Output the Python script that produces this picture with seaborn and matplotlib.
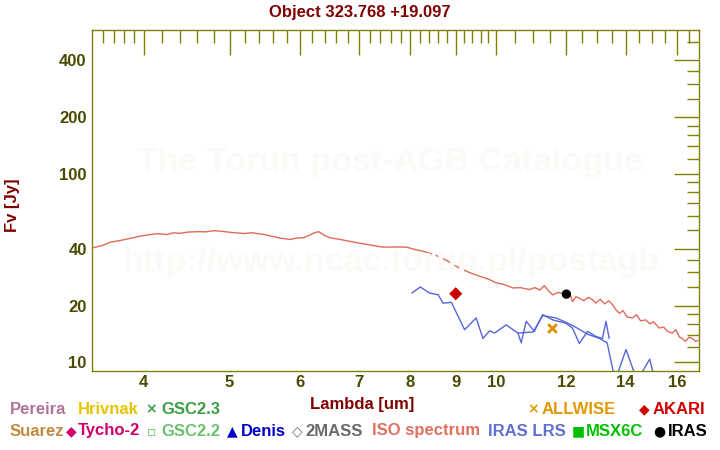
import matplotlib
matplotlib.use("Agg")
import matplotlib.pyplot as plt
import seaborn as sns

# =========================
# Data
# =========================

iso_wave = [3.51, 3.60, 3.67, 3.76, 3.86, 3.95, 4.05, 4.14, 4.25, 4.32, 4.40, 4.48,
            4.60, 4.70, 4.80, 4.90, 5.05, 5.20, 5.30, 5.46, 5.60, 5.70, 5.85, 5.95,
            6.06, 6.15, 6.25, 6.30, 6.40, 6.49, 6.70, 6.96, 7.20, 7.45, 7.70, 7.92,
            8.10, 8.27, 8.45, 8.60, 8.80, 9.00, 9.17, 9.35, 9.58, 9.80, 10.0, 10.2,
            10.44, 10.65, 10.90, 11.05, 11.20, 11.33, 11.45, 11.58, 11.75, 11.99,
            12.10, 12.19, 12.30, 12.41, 12.55, 12.70, 12.84, 12.95, 13.10, 13.25,
            13.40, 13.53, 13.65, 13.77, 13.90, 14.05, 14.25, 14.40, 14.55, 14.75,
            14.90, 15.05, 15.27, 15.45, 15.60, 15.80, 15.95, 16.10, 16.22, 16.35,
            16.50, 16.64, 16.80, 16.90]
iso_flux = [40.5, 41.8, 43.4, 44.2, 45.4, 46.5, 47.4, 48.1, 47.6, 48.6, 48.3, 49.0,
            49.3, 49.2, 49.9, 49.5, 48.7, 48.2, 48.6, 47.7, 46.4, 45.6, 44.8, 45.6,
            45.8, 47.2, 48.8, 49.3, 47.1, 45.8, 44.6, 43.1, 41.9, 40.8, 40.9, 40.8,
            39.6, 38.8, 37.6, 36.5, 34.6, 32.4, 31.0, 29.8, 28.6, 27.6, 26.4, 25.9,
            24.8, 24.9, 24.3, 24.9, 24.2, 25.5, 24.0, 22.8, 23.5, 22.8,
            23.4, 21.0, 22.3, 21.9, 21.2, 22.1, 21.5, 20.6, 21.6, 20.4,
            21.2, 20.2, 19.0, 18.2, 18.8, 17.4, 17.2, 17.9, 16.6, 16.8,
            16.0, 16.4, 15.2, 15.4, 14.6, 14.3, 14.9, 13.6, 13.4, 12.9,
            13.6, 13.4, 12.9, 13.1]

# IRAS LRS: blue part and red part of the spectrum
lrs1_wave = [8.03, 8.21, 8.41, 8.60, 8.71, 8.90, 9.21, 9.49, 9.66, 9.83, 9.96, 10.26,
             10.58, 10.67, 10.81, 11.04, 11.28, 11.58, 11.99, 12.19, 12.41, 12.68,
             12.96, 13.18, 13.30, 13.41]
lrs1_flux = [23.3, 25.1, 23.3, 22.8, 20.6, 20.8, 14.9, 17.2, 13.4, 14.7, 14.3, 15.8,
             14.3, 12.7, 16.5, 14.6, 17.9, 16.8, 16.1, 15.2, 12.6, 14.6,
             13.7, 13.4, 16.5, 13.4]
lrs2_wave = [10.58, 11.01, 11.28, 11.68, 11.99, 12.28, 12.68, 13.07, 13.34, 13.62,
             14.01, 14.42, 14.90, 15.11]
lrs2_flux = [14.3, 14.5, 17.7, 17.2, 16.3, 15.4, 14.1, 13.4, 12.7, 8.0,
             11.7, 8.0, 10.4, 8.0]

akari_wave = [9.0]
akari_flux = [23.1]
iras_wave = [12.0]
iras_flux = [23.0]
allwise_wave = [11.56]
allwise_flux = [15.2]

x_major = [4, 5, 6, 7, 8, 9, 10, 12, 14, 16]
x_minor = [3.6, 3.7, 3.8, 3.9, 4.2, 4.4, 4.6, 4.8, 5.2, 5.4, 5.6, 5.8,
           6.2, 6.4, 6.6, 6.8, 7.2, 7.4, 7.6, 7.8, 8.2, 8.4, 8.6, 8.8,
           9.2, 9.4, 9.6, 9.8, 10.5, 11, 11.5, 12.5, 13, 13.5, 14.5, 15, 15.5, 16.5]
y_major = [10, 20, 40, 100, 200, 400]
y_minor = [12, 14, 16, 18, 25, 30, 35, 50, 60, 70, 80, 90,
           120, 140, 160, 180, 250, 300, 350, 500]

# legend rows: (symbol, label, colour, x of symbol, x of label, y)
legend_items = [
    ("", "Pereira", "#b07595", None, 10, 409),
    ("", "Hrivnak", "#e6c400", None, 78, 409),
    ("×", "GSC2.3", "#3d9e45", 151, 161, 409),
    ("×", "ALLWISE", "#e09a00", 533, 542, 409),
    ("◆", "AKARI", "#d00000", 644, 653, 409),
    ("", "Suarez", "#c08a40", None, 10, 431),
    ("◆", "Tycho-2", "#d2006a", 71, 78, 431),
    ("▫", "GSC2.2", "#6cc070", 151, 161, 431),
    ("▲", "Denis", "#0000c8", 232, 241, 431),
    ("◇", "2MASS", "#6a6a6a", 297, 305, 431),
    ("", "ISO spectrum", "#e07060", None, 372, 431),
    ("", "IRAS LRS", "#6070d0", None, 488, 431),
    ("■", "MSX6C", "#00c000", 578, 586, 431),
    ("●", "IRAS", "#000000", 659, 668, 431),
]

# =========================
# Style
# =========================

sns.set_style("white")
plt.rcParams['font.family'] = ['Liberation Sans', 'DejaVu Sans']
plt.rcParams['font.weight'] = 'bold'

olive = "#808000"
label_col = "#4a4a00"
maroon = "#800000"

W, H = 720, 450
fig = plt.figure(figsize=(7.2, 4.5), dpi=100)
ax = fig.add_axes([92.3 / W, 1 - 371 / H, 607 / W, 341.5 / H])

# watermark
fig.text(390 / W, 1 - 162 / H, "The Torun post-AGB Catalogue", ha="center",
         va="center", fontsize=24.5, color="#fcfaf6", weight="bold", zorder=0)
fig.text(391 / W, 1 - 262 / H, "http://www.ncac.torun.pl/postagb", ha="center",
         va="center", fontsize=24.5, color="#fcfaf6", weight="bold", zorder=0)
ax.patch.set_alpha(0)

# =========================
# Plot
# =========================

sns.lineplot(x=iso_wave, y=iso_flux, ax=ax, color="#e06a58", linewidth=1,
             sort=False, estimator=None)
sns.lineplot(x=lrs1_wave, y=lrs1_flux, ax=ax, color="#5566dd", linewidth=1,
             sort=False, estimator=None)
sns.lineplot(x=lrs2_wave, y=lrs2_flux, ax=ax, color="#5566dd", linewidth=1,
             sort=False, estimator=None)

sns.scatterplot(x=akari_wave, y=akari_flux, ax=ax, marker="D", s=45,
                color="#cc0000", edgecolor="none", zorder=5)
sns.scatterplot(x=iras_wave, y=iras_flux, ax=ax, marker="o", s=45,
                color="black", edgecolor="none", zorder=5)
sns.scatterplot(x=allwise_wave, y=allwise_flux, ax=ax, marker="x", s=40,
                color="#e09000", linewidth=2, zorder=5)

ax.set_xscale("log")
ax.set_yscale("log")
ax.set_xlim(3.5, 16.95)
ax.set_ylim(9.0, 581)

ax.set_xticks(x_major)
ax.set_xticklabels([str(v) for v in x_major])
ax.set_xticks(x_minor, minor=True)
ax.set_xticklabels([], minor=True)
ax.set_yticks(y_major)
ax.set_yticklabels([str(v) for v in y_major])
ax.set_yticks(y_minor, minor=True)
ax.set_yticklabels([], minor=True)

ax.tick_params(which="both", direction="in", top=True, right=True,
               color=olive, width=1)
ax.tick_params(which="major", length=18, labelsize=12, labelcolor=label_col)
ax.tick_params(axis="x", which="major", pad=3)
ax.tick_params(axis="y", which="major", pad=4)
ax.tick_params(which="minor", length=9)
for lab in ax.get_xticklabels() + ax.get_yticklabels():
    lab.set_fontweight("bold")

for sp in ax.spines.values():
    sp.set_color(olive)
    sp.set_linewidth(1)

ax.set_xlabel("")
ax.set_ylabel("")

# titles and axis labels
fig.text(360 / W, 1 - 13 / H, "Object 323.768 +19.097", ha="center", va="center",
         fontsize=12, color=maroon, weight="bold")
fig.text(362 / W, 1 - 404 / H, "Lambda [um]", ha="center", va="center",
         fontsize=12, color=maroon, weight="bold")
fig.text(12 / W, 1 - 205 / H, "Fv [Jy]", ha="center", va="center", rotation=90,
         fontsize=12, color=maroon, weight="bold")

# source legend below the plot
for sym, lab, col, xs, xl, y in legend_items:
    if sym:
        fig.text(xs / W, 1 - y / H, sym, ha="center", va="center", fontsize=10,
                 color=col, family=["DejaVu Sans"], weight="bold")
    fig.text(xl / W, 1 - y / H, lab, ha="left", va="center", fontsize=12,
             color=col, weight="bold")

plt.savefig("out.png", dpi=100)
